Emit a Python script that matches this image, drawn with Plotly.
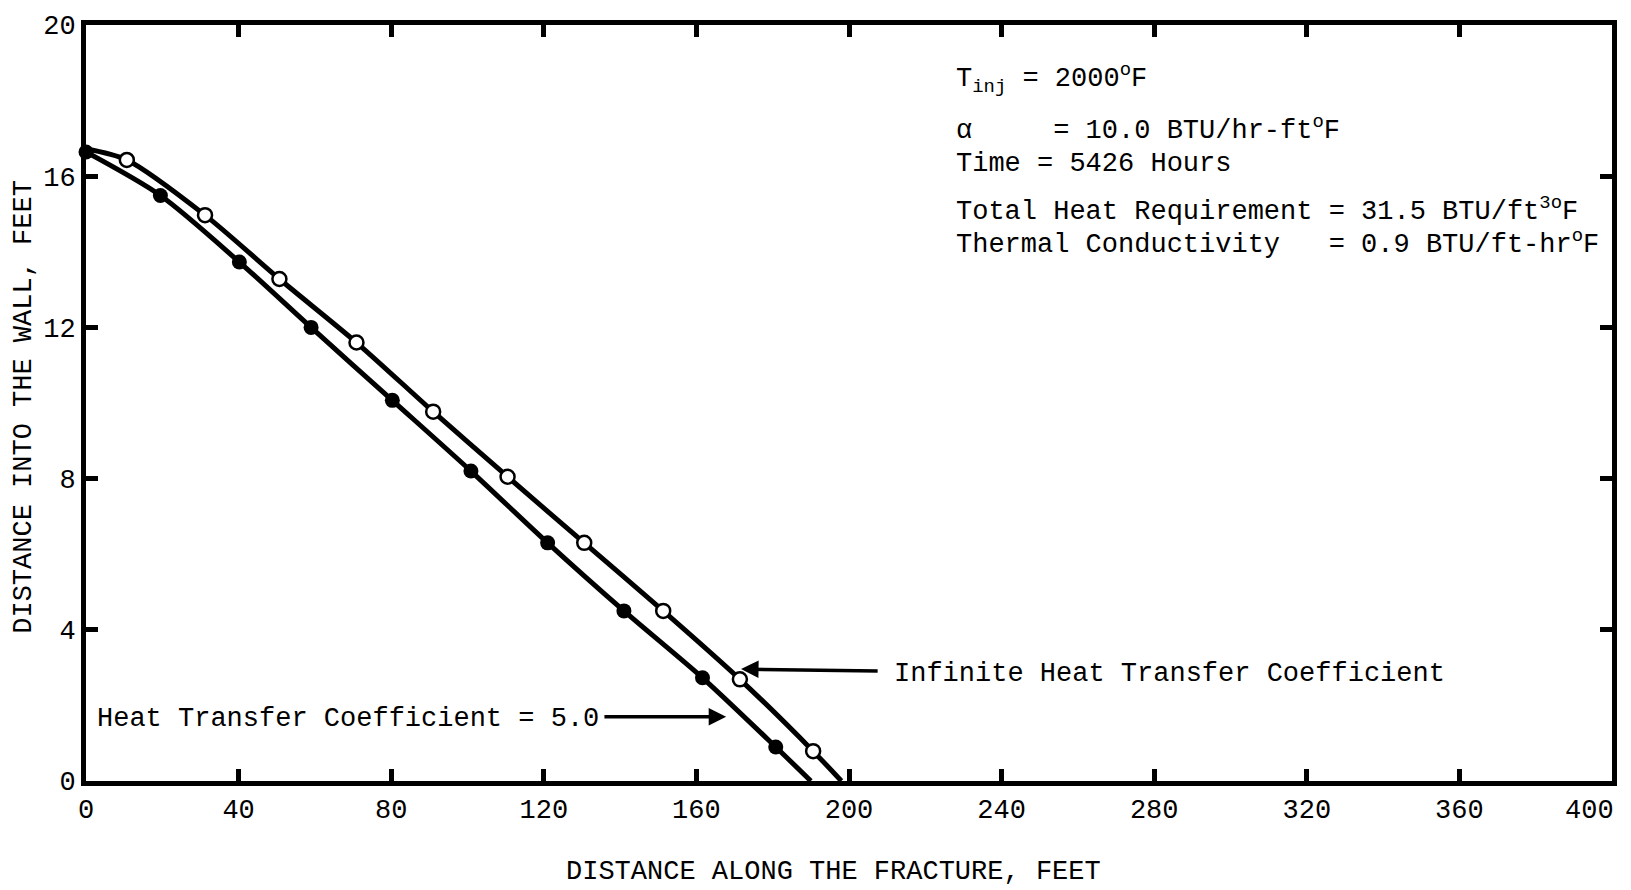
import plotly.graph_objects as go

# Heat transfer coefficient = 5.0 (filled circles)
htc5_x = [0, 19.5, 40.2, 59.0, 80.3, 100.9, 121.0, 141.0, 161.6, 180.8]
htc5_y = [16.64, 15.49, 13.73, 12.0, 10.07, 8.2, 6.3, 4.5, 2.73, 0.9]
htc5_end_x = [190.0]
htc5_end_y = [0.0]

# Infinite heat transfer coefficient (open circles)
inf_start_x = [0.0]
inf_start_y = [16.72]
inf_x = [10.7, 31.2, 50.7, 70.9, 91.0, 110.5, 130.6, 151.3, 171.4, 190.6]
inf_y = [16.43, 14.97, 13.28, 11.6, 9.77, 8.05, 6.3, 4.5, 2.69, 0.79]
inf_end_x = [198.0]
inf_end_y = [0.0]

x_ticks = [0, 40, 80, 120, 160, 200, 240, 280, 320, 360, 400]
y_ticks = [0, 4, 8, 12, 16, 20]

FONT = "Liberation Mono"
FS = 27

fig = go.Figure()

fig.add_trace(go.Scatter(
    x=htc5_x + htc5_end_x, y=htc5_y + htc5_end_y, mode="lines",
    line=dict(color="black", width=5, shape="spline", smoothing=0.8),
    hoverinfo="skip", showlegend=False))
fig.add_trace(go.Scatter(
    x=inf_start_x + inf_x + inf_end_x, y=inf_start_y + inf_y + inf_end_y, mode="lines",
    line=dict(color="black", width=5, shape="spline", smoothing=0.8),
    hoverinfo="skip", showlegend=False))
fig.add_trace(go.Scatter(
    x=htc5_x, y=htc5_y, mode="markers", cliponaxis=False,
    marker=dict(symbol="circle", size=15, color="black"),
    name="Heat Transfer Coefficient = 5.0", showlegend=False))
fig.add_trace(go.Scatter(
    x=inf_x, y=inf_y, mode="markers", cliponaxis=False,
    marker=dict(symbol="circle", size=14, color="white",
                line=dict(color="black", width=2.5)),
    name="Infinite Heat Transfer Coefficient", showlegend=False))

axis_common = dict(
    showline=True, linewidth=5, linecolor="black", mirror="ticks",
    ticks="inside", ticklen=12, tickwidth=5, tickcolor="black",
    showgrid=False, zeroline=False,
    tickfont=dict(family=FONT, size=FS, color="black"),
)

# last x tick label (400) is drawn separately so it stays inside the page
fig.update_xaxes(range=[0, 400], tickvals=x_ticks,
                 ticktext=[str(v) if v != x_ticks[-1] else "" for v in x_ticks],
                 **axis_common)
fig.update_yaxes(range=[0, 20], tickvals=y_ticks,
                 ticktext=[str(v) for v in y_ticks], **axis_common)

ann = []
ann.append(dict(text=str(x_ticks[-1]), x=x_ticks[-1], y=0, xref="x", yref="y",
                xanchor="right", yanchor="top", yshift=-13, xshift=4, showarrow=False,
                font=dict(family=FONT, size=FS, color="black")))
# Axis titles
ann.append(dict(text="DISTANCE ALONG THE FRACTURE, FEET", xref="paper", yref="paper",
                x=0.49, y=0, xanchor="center", yanchor="middle", yshift=-91,
                showarrow=False, font=dict(family=FONT, size=FS, color="black")))
ann.append(dict(text="DISTANCE INTO THE WALL, FEET", xref="paper", yref="paper",
                x=0, y=0.495, xanchor="center", yanchor="middle", xshift=-62,
                textangle=-90, showarrow=False,
                font=dict(family=FONT, size=FS, color="black")))

# Parameter block
NB = "\u00a0"
lines = [
    ("T<sub>inj</sub>" + NB + "=" + NB + "2000<sup>o</sup>F", 18.58),
    ("\u03b1" + NB * 5 + "=" + NB + "10.0" + NB + "BTU/hr-ft<sup>o</sup>F", 17.25),
    ("Time" + NB + "=" + NB + "5426" + NB + "Hours", 16.33),
    ("Total" + NB + "Heat" + NB + "Requirement" + NB + "=" + NB + "31.5" + NB + "BTU/ft<sup>3o</sup>F", 15.12),
    ("Thermal" + NB + "Conductivity" + NB * 3 + "=" + NB + "0.9" + NB + "BTU/ft-hr<sup>o</sup>F", 14.24),
]
for txt, yy in lines:
    ann.append(dict(text=txt, x=227.5, y=yy, xref="x", yref="y",
                    xanchor="left", yanchor="middle", showarrow=False,
                    font=dict(family=FONT, size=FS, color="black")))

# Curve labels
ann.append(dict(text="Infinite" + NB + "Heat" + NB + "Transfer" + NB + "Coefficient",
                x=211.3, y=2.83, xref="x", yref="y", xanchor="left", yanchor="middle",
                showarrow=False, font=dict(family=FONT, size=FS, color="black")))
ann.append(dict(text="Heat" + NB + "Transfer" + NB + "Coefficient" + NB + "=" + NB + "5.0",
                x=135.0, y=1.65, xref="x", yref="y", xanchor="right", yanchor="middle",
                showarrow=False, font=dict(family=FONT, size=FS, color="black")))

# Arrows
ann.append(dict(x=171.7, y=2.96, ax=207.9, ay=2.91, xref="x", yref="y",
                axref="x", ayref="y", text="", showarrow=True,
                arrowhead=2, arrowsize=1.0, arrowwidth=3.5, arrowcolor="black"))
ann.append(dict(x=167.8, y=1.70, ax=135.5, ay=1.70, xref="x", yref="y",
                axref="x", ayref="y", text="", showarrow=True,
                arrowhead=2, arrowsize=1.0, arrowwidth=3.5, arrowcolor="black"))

fig.update_layout(
    width=1631, height=890,
    margin=dict(l=86, r=19, t=18, b=109),
    paper_bgcolor="white", plot_bgcolor="white",
    annotations=ann,
    font=dict(family=FONT, size=FS, color="black"),
)

fig.write_html("out.html")
